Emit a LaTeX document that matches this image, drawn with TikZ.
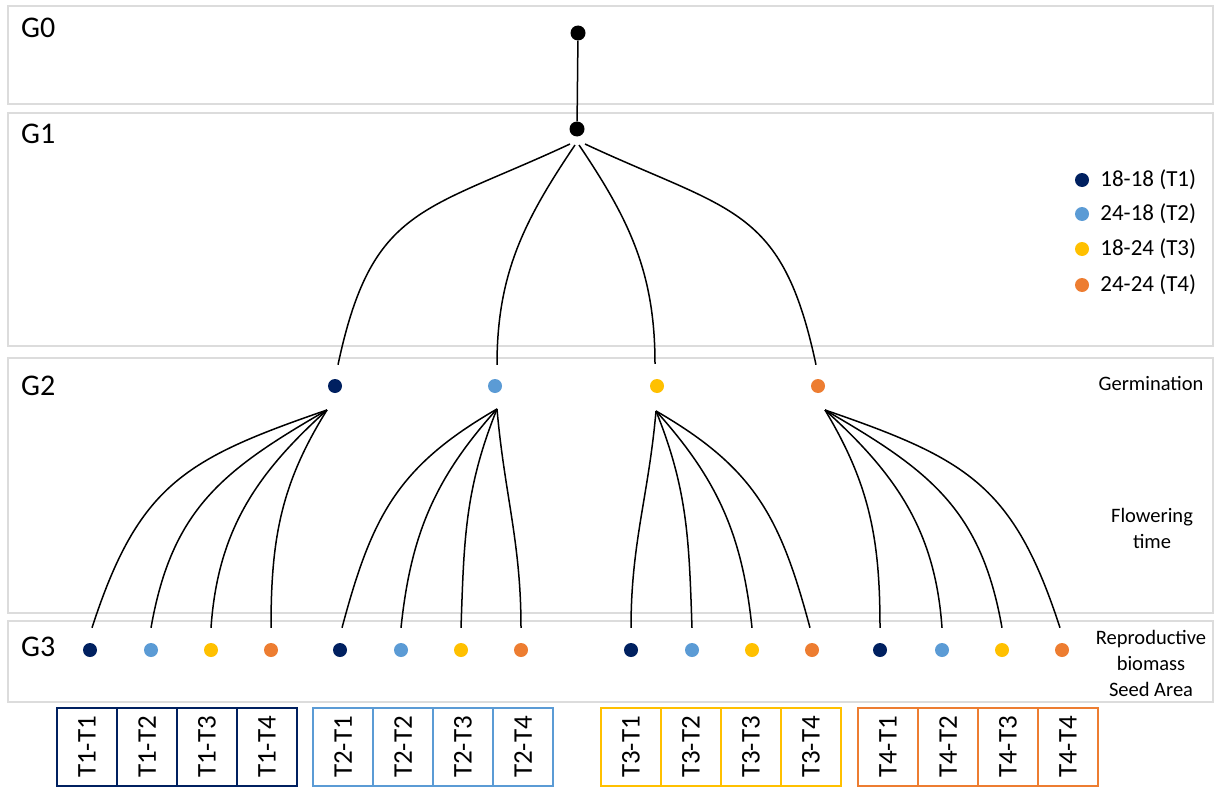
\documentclass[tikz,border=0pt]{standalone}
\usepackage{fontspec}
\setmainfont{Carlito}
\usetikzlibrary{positioning,calc}
\definecolor{tone}{HTML}{002060}
\definecolor{ttwo}{HTML}{5B9BD5}
\definecolor{tthree}{HTML}{FFC000}
\definecolor{tfour}{HTML}{ED7D31}
\definecolor{bandgray}{HTML}{DCDCDC}
\tikzset{
  band/.style={draw=bandgray,line width=1.6pt},
  gen/.style={anchor=base west,inner sep=0pt,font=\fontsize{30}{30}\selectfont},
  sidetext/.style={align=center,inner sep=0pt,font=\fontsize{20.5}{26}\selectfont},
  keytext/.style={anchor=west,inner sep=0pt,font=\fontsize{23}{23}\selectfont},
  bdot/.style={circle,fill=black,inner sep=0pt,minimum size=15pt},
  cdot/.style={circle,fill=#1,inner sep=0pt,minimum size=14pt},
  br/.style={line width=1.5pt},
  cell/.style={draw=#1,line width=1.5pt,rotate=90,minimum width=78pt,minimum height=60pt,inner sep=0pt,font=\fontsize{27}{27}\selectfont}
}

\begin{document}
\begin{tikzpicture}[x=1pt,y=-1pt]
\useasboundingbox (0,0) rectangle (1221,792);
% generation bands
\draw[band] (8,6) rectangle (1213,104);
\draw[band] (8,113) rectangle (1213,346);
\draw[band] (8,358) rectangle (1213,613);
\draw[band] (8,621) rectangle (1213,702);
\node[gen] (L0) at (21,38) {G0};
\node[gen] (L1) at (21,143) {G1};
\node[gen] (L2) at (21,395) {G2};
\node[gen] (L3) at (21,656) {G3};
\node[sidetext] (germ) at (1151,383) {Germination};
\node[sidetext] (flow) at (1152,528) {Flowering\\time};
\node[sidetext] (repr) at (1151,663) {Reproductive\\biomass\\Seed Area};
% legend
\node[cdot=tone] (k1) at (1082,180) {};
\node[cdot=ttwo] (k2) at (1082,214) {};
\node[cdot=tthree] (k3) at (1082,249) {};
\node[cdot=tfour] (k4) at (1082,285) {};
\node[keytext, right=11pt of k1] {18-18 (T1)};
\node[keytext, right=11pt of k2] {24-18 (T2)};
\node[keytext, right=11pt of k3] {18-24 (T3)};
\node[keytext, right=11pt of k4] {24-24 (T4)};
% G0, G1
\node[bdot] (g0) at (578,33) {};
\node[bdot] (g1) at (577,129) {};
\draw[br] (g0) -- (g1);
% G2
\node[cdot=tone] (ta) at (335,386) {};
\node[cdot=ttwo] (tb) at (495,386) {};
\node[cdot=tthree] (tc) at (657,386) {};
\node[cdot=tfour] (td) at (818,386) {};
\draw[br] ([shift={(-7,15)}]g1.center) to[out=-155,in=78,looseness=1.3] ([shift={(3,-14)}]ta.north);
\draw[br] ([shift={(-2,16)}]g1.center) to[out=-124,in=90] ([shift={(2,-14)}]tb.north);
\draw[br] ([shift={(2,16)}]g1.center) to[out=-56,in=90] ([shift={(-2,-15)}]tc.north);
\draw[br] ([shift={(8,15)}]g1.center) to[out=-25,in=102,looseness=1.3] ([shift={(-2,-14)}]td.north);
% G3
\node[cdot=tone] (a1) at (90,650) {};
\node[cdot=ttwo] (a2) at (151,650) {};
\node[cdot=tthree] (a3) at (211,650) {};
\node[cdot=tfour] (a4) at (271,650) {};
\node[cdot=tone] (b1) at (340,650) {};
\node[cdot=ttwo] (b2) at (401,650) {};
\node[cdot=tthree] (b3) at (461,650) {};
\node[cdot=tfour] (b4) at (521,650) {};
\node[cdot=tone] (c1) at (631,650) {};
\node[cdot=ttwo] (c2) at (692,650) {};
\node[cdot=tthree] (c3) at (752,650) {};
\node[cdot=tfour] (c4) at (812,650) {};
\node[cdot=tone] (d1) at (880,650) {};
\node[cdot=ttwo] (d2) at (942,650) {};
\node[cdot=tthree] (d3) at (1002,650) {};
\node[cdot=tfour] (d4) at (1062,650) {};
\draw[br] ([shift={(-8,24)}]ta.center) to[out=-161,in=72,looseness=1.2] ([shift={(2,-15)}]a1.north);
\draw[br] ([shift={(-8,24)}]ta.center) to[out=-150,in=80,looseness=1.1] ([shift={(0,-15)}]a2.north);
\draw[br] ([shift={(-8,24)}]ta.center) to[out=-138,in=86] ([shift={(0,-15)}]a3.north);
\draw[br] ([shift={(-8,24)}]ta.center) to[out=-122,in=90] ([shift={(0,-15)}]a4.north);
\draw[br] ([shift={(2,23)}]tb.center) to[out=-150,in=75,looseness=1.1] ([shift={(2,-15)}]b1.north);
\draw[br] ([shift={(2,23)}]tb.center) to[out=-132,in=84] ([shift={(0,-15)}]b2.north);
\draw[br] ([shift={(2,23)}]tb.center) to[out=-112,in=88] ([shift={(0,-15)}]b3.north);
\draw[br] ([shift={(2,23)}]tb.center) to[out=-85,in=90] ([shift={(0,-15)}]b4.north);
\draw[br] ([shift={(-1,25)}]tc.center) to[out=-95,in=90] ([shift={(0,-15)}]c1.north);
\draw[br] ([shift={(-1,25)}]tc.center) to[out=-68,in=92] ([shift={(0,-15)}]c2.north);
\draw[br] ([shift={(-1,25)}]tc.center) to[out=-48,in=96] ([shift={(0,-15)}]c3.north);
\draw[br] ([shift={(-1,25)}]tc.center) to[out=-30,in=105,looseness=1.1] ([shift={(-2,-15)}]c4.north);
\draw[br] ([shift={(7,24)}]td.center) to[out=-59,in=90] ([shift={(0,-15)}]d1.north);
\draw[br] ([shift={(7,24)}]td.center) to[out=-42,in=94] ([shift={(0,-15)}]d2.north);
\draw[br] ([shift={(7,24)}]td.center) to[out=-30,in=100,looseness=1.1] ([shift={(0,-15)}]d3.north);
\draw[br] ([shift={(7,24)}]td.center) to[out=-19,in=108,looseness=1.2] ([shift={(-2,-15)}]d4.north);
% combination boxes
\node[cell=tone] (ca1) at (87,747) {T1-T1};
\node[cell=tone] (ca2) at (147,747) {T1-T2};
\node[cell=tone] (ca3) at (207,747) {T1-T3};
\node[cell=tone] (ca4) at (267,747) {T1-T4};
\node[cell=ttwo] (cb1) at (343,747) {T2-T1};
\node[cell=ttwo] (cb2) at (403,747) {T2-T2};
\node[cell=ttwo] (cb3) at (463,747) {T2-T3};
\node[cell=ttwo] (cb4) at (523,747) {T2-T4};
\node[cell=tthree] (cc1) at (631,747) {T3-T1};
\node[cell=tthree] (cc2) at (691,747) {T3-T2};
\node[cell=tthree] (cc3) at (751,747) {T3-T3};
\node[cell=tthree] (cc4) at (811,747) {T3-T4};
\node[cell=tfour] (cd1) at (888,747) {T4-T1};
\node[cell=tfour] (cd2) at (948,747) {T4-T2};
\node[cell=tfour] (cd3) at (1008,747) {T4-T3};
\node[cell=tfour] (cd4) at (1068,747) {T4-T4};
\end{tikzpicture}
\end{document}
